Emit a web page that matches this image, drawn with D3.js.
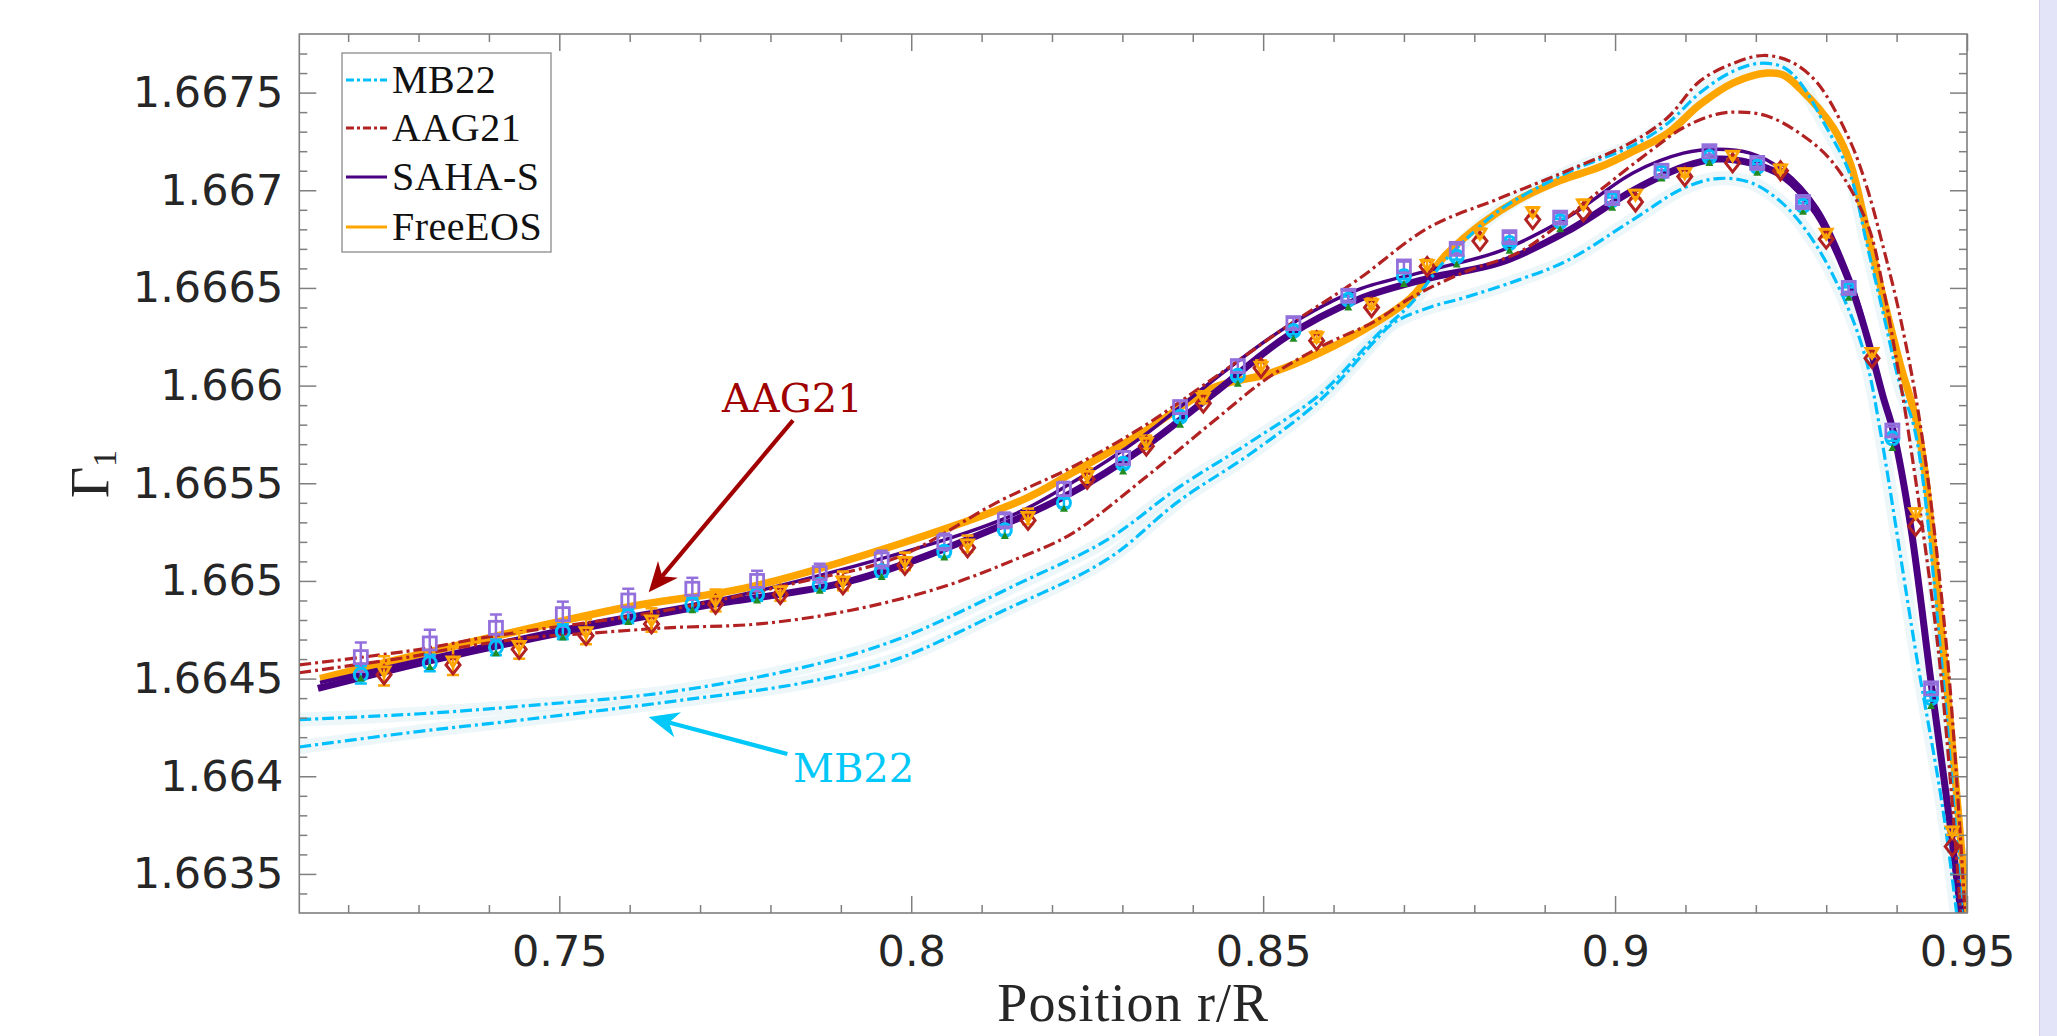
<!DOCTYPE html>
<html><head><meta charset="utf-8">
<script src="https://cdn.jsdelivr.net/npm/d3@7"></script>
<style>html,body{margin:0;padding:0;background:#fff;overflow:hidden}</style>
</head><body><svg id="c" width="2057" height="1036"></svg>
<script>
// ---------------- DATA ----------------
const xDomain = [0.71306, 0.95];
const yDomain = [1.6633, 1.6678];
const xTicks = [0.75, 0.8, 0.85, 0.9, 0.95];
const xTickLabels = ["0.75", "0.8", "0.85", "0.9", "0.95"];
const yTicks = [1.6635, 1.664, 1.6645, 1.665, 1.6655, 1.666, 1.6665, 1.667, 1.6675];
const yTickLabels = ["1.6635", "1.664", "1.6645", "1.665", "1.6655", "1.666", "1.6665", "1.667", "1.6675"];
const xMinor = [0.72,0.73,0.74,0.76,0.77,0.78,0.79,0.81,0.82,0.83,0.84,0.86,0.87,0.88,0.89,0.91,0.92,0.93,0.94];
const yMinor = [1.6634,1.6636,1.6637,1.6638,1.6639,1.6641,1.6642,1.6643,1.6644,1.6646,1.6647,1.6648,1.6649,1.6651,1.6652,1.6653,1.6654,1.6656,1.6657,1.6658,1.6659,1.6661,1.6662,1.6663,1.6664,1.6666,1.6667,1.6668,1.6669,1.6671,1.6672,1.6673,1.6674,1.6676,1.6677];

// MB22 model curves (two)
const mb22A = [[0.71306,1.66429],[0.7302,1.66432],[0.7450,1.66436],[0.76530,1.66443],[0.78491,1.66456],[0.79799,1.66470],[0.81546,1.66499],[0.82782,1.66521],[0.83806,1.66548],[0.84814,1.66571],[0.85823,1.66596],[0.86591,1.66625],[0.87102,1.66642],[0.87557,1.66663],[0.87856,1.66674],[0.88367,1.66690],[0.89320,1.66709],[0.90257,1.66723],[0.90740,1.66734],[0.91210,1.66750],[0.91680,1.66761],[0.92060,1.66765],[0.92390,1.66763],[0.92630,1.66755],[0.92960,1.66735],[0.93340,1.66708],[0.93580,1.66672],[0.93810,1.66637],[0.94050,1.66600],[0.94260,1.66577],[0.94630,1.66462],[0.94940,1.66325]];
const mb22B = [[0.71306,1.66415],[0.7302,1.66423],[0.7450,1.66429],[0.76530,1.66438],[0.78491,1.66448],[0.79799,1.66460],[0.81262,1.66484],[0.82782,1.66511],[0.83806,1.66541],[0.84814,1.66565],[0.85823,1.66593],[0.86591,1.66623],[0.86847,1.66632],[0.87358,1.66640],[0.87856,1.66645],[0.88623,1.66654],[0.89320,1.66664],[0.90257,1.66685],[0.90968,1.66701],[0.91451,1.66706],[0.91920,1.66704],[0.92389,1.66693],[0.92872,1.66671],[0.93341,1.66637],[0.93582,1.66611],[0.93767,1.66577],[0.94280,1.66462],[0.94650,1.66385],[0.94870,1.66325]];
// AAG21 model curves (two)
const aag21A = [[0.71306,1.66457],[0.73021,1.66465],[0.73926,1.66471],[0.76530,1.66485],[0.78491,1.66500],[0.79799,1.66512],[0.81262,1.66541],[0.82271,1.66558],[0.83294,1.66579],[0.84303,1.66604],[0.85326,1.66630],[0.86335,1.66654],[0.87358,1.66681],[0.88367,1.66696],[0.89320,1.66710],[0.90257,1.66725],[0.90740,1.66737],[0.91210,1.66756],[0.91680,1.66765],[0.92104,1.66769],[0.92488,1.66766],[0.92872,1.66755],[0.93341,1.66725],[0.93582,1.66701],[0.93809,1.66671],[0.94051,1.66635],[0.94349,1.66577],[0.94720,1.66462],[0.94980,1.66325]];
const aag21B = [[0.71306,1.66453],[0.73021,1.66462],[0.73272,1.66464],[0.74578,1.66471],[0.75361,1.66473],[0.76530,1.66476],[0.77837,1.66478],[0.79145,1.66485],[0.80452,1.66497],[0.81546,1.66512],[0.82271,1.66524],[0.83294,1.66552],[0.84303,1.66582],[0.85070,1.66604],[0.85823,1.66620],[0.86591,1.66633],[0.87102,1.66645],[0.87856,1.66658],[0.88623,1.66668],[0.89078,1.66679],[0.89788,1.66700],[0.90499,1.66720],[0.90968,1.66732],[0.91451,1.66739],[0.91778,1.66740],[0.92161,1.66738],[0.92630,1.66729],[0.93099,1.66714],[0.93582,1.66683],[0.93809,1.66650],[0.94008,1.66611],[0.94165,1.66577],[0.94600,1.66462],[0.94920,1.66325]];
// SAHA-S (thick and thin)
const sahaThick = [[0.7157,1.66445],[0.7327,1.66460],[0.7523,1.66475],[0.7718,1.66488],[0.7914,1.66500],[0.8126,1.66528],[0.8227,1.66545],[0.8329,1.66568],[0.8430,1.66596],[0.8533,1.66625],[0.8634,1.66644],[0.8736,1.66655],[0.8837,1.66663],[0.8932,1.66679],[0.9026,1.66700],[0.9097,1.66712],[0.9145,1.66716],[0.9192,1.66714],[0.9239,1.66707],[0.9287,1.66688],[0.9334,1.66652],[0.9358,1.66625],[0.9381,1.66594],[0.9395,1.66577],[0.9420,1.66528],[0.9449,1.66448],[0.9475,1.66378],[0.9493,1.66325]];
const sahaThin = [[0.7160,1.66448],[0.7523,1.66477],[0.7784,1.66495],[0.8126,1.66531],[0.8227,1.66550],[0.8329,1.66574],[0.8430,1.66603],[0.8533,1.66630],[0.8634,1.66649],[0.8736,1.66659],[0.8837,1.66669],[0.8932,1.66686],[0.9026,1.66709],[0.9097,1.66719],[0.9145,1.66721],[0.9192,1.66719],[0.9239,1.66710],[0.9287,1.66691],[0.9334,1.66655],[0.9358,1.66627],[0.9381,1.66595],[0.9395,1.66578],[0.9420,1.66530],[0.9449,1.66450],[0.9475,1.66380],[0.9493,1.66325]];
// FreeEOS
const freeEOS = [[0.7160,1.66450],[0.7588,1.66486],[0.7784,1.66498],[0.8155,1.66541],[0.8227,1.66555],[0.8329,1.66576],[0.8430,1.66599],[0.8507,1.66606],[0.8582,1.66617],[0.8659,1.66632],[0.8710,1.66645],[0.8760,1.66667],[0.8811,1.66683],[0.8862,1.66695],[0.8922,1.66705],[0.8979,1.66712],[0.9026,1.66720],[0.9074,1.66729],[0.9121,1.66744],[0.9168,1.66755],[0.9216,1.66760],[0.9239,1.66759],[0.9263,1.66752],[0.9310,1.66732],[0.9334,1.66714],[0.9358,1.66679],[0.9381,1.66645],[0.9405,1.66611],[0.9431,1.66577],[0.9467,1.66462],[0.9501,1.66325]];

// Observed inversions (markers)
const xObsA = [0.7218,0.7316,0.7410,0.7505,0.7598,0.7689,0.7781,0.7870,0.7958,0.8047,0.8133,0.8217,0.8301,0.8382,0.8464,0.8543,0.8621,0.8700,0.8775,0.8850,0.8922,0.8996,0.9066,0.9134,0.9202,0.9267,0.9332,0.9394,0.9449];
const xObsB = [0.7251,0.7349,0.7443,0.7538,0.7631,0.7722,0.7814,0.7903,0.7991,0.8080,0.8166,0.8250,0.8334,0.8415,0.8497,0.8576,0.8654,0.8733,0.8808,0.8883,0.8955,0.9029,0.9099,0.9167,0.9235,0.9300,0.9365,0.9427,0.9479];
const obsPurple = [1.66461,1.66468,1.66476,1.66483,1.66490,1.66496,1.66500,1.66504,1.66511,1.66520,1.66531,1.66547,1.66563,1.66589,1.66610,1.66632,1.66646,1.66661,1.66670,1.66676,1.66686,1.66696,1.66710,1.66720,1.66714,1.66694,1.66650,1.66577,1.66445];
const obsCyan = [1.66452,1.66458,1.66466,1.66474,1.66482,1.66488,1.66493,1.66498,1.66505,1.66515,1.66526,1.66540,1.66560,1.66584,1.66605,1.66628,1.66644,1.66656,1.66666,1.66673,1.66684,1.66695,1.66709,1.66717,1.66712,1.66692,1.66649,1.66573,1.66440];
const obsGreen = [1.66450,1.66456,1.66463,1.66471,1.66479,1.66485,1.66490,1.66495,1.66502,1.66512,1.66523,1.66537,1.66556,1.66580,1.66601,1.66624,1.66640,1.66652,1.66662,1.66669,1.66680,1.66691,1.66706,1.66714,1.66709,1.66689,1.66645,1.66568,1.66436];
const obsOrange = [1.66454,1.66459,1.66467,1.66474,1.66480,1.66490,1.66495,1.66500,1.66510,1.66519,1.66533,1.66554,1.66571,1.66594,1.66610,1.66625,1.66642,1.66662,1.66678,1.66689,1.66693,1.66698,1.66709,1.66718,1.66711,1.66678,1.66617,1.66535,1.66372];
const obsRed = [1.66452,1.66457,1.66465,1.66472,1.66478,1.66488,1.66493,1.66498,1.66508,1.66517,1.66531,1.66552,1.66569,1.66591,1.66609,1.66623,1.66640,1.66661,1.66674,1.66685,1.66689,1.66694,1.66707,1.66714,1.66710,1.66675,1.66614,1.66528,1.66364];
const errPurple = [0.000075,0.000070,0.000068,0.000064,0.000060,0.000056,0.000052,0.000048,0.000045,0.000042,0.000040,0.000037,0.000034,0.000031,0.000029,0.000027,0.000026,0.000025,0.000024,0.000023,0.000022,0.000021,0.000020,0.000020,0.000020,0.000020,0.000020,0.000020,0.000020];
const errCyan = [0.000045,0.000042,0.000040,0.000038,0.000036,0.000034,0.000032,0.000030,0.000028,0.000026,0.000024,0.000022,0.000020,0.000019,0.000018,0.000017,0.000016,0.000015,0.000015,0.000014,0.000014,0.000013,0.000013,0.000013,0.000013,0.000013,0.000013,0.000013,0.000013];
const errOrange = [0.000075,0.000072,0.000068,0.000064,0.000060,0.000056,0.000052,0.000048,0.000045,0.000042,0.000040,0.000037,0.000034,0.000031,0.000029,0.000027,0.000026,0.000025,0.000024,0.000023,0.000022,0.000021,0.000020,0.000020,0.000020,0.000020,0.000020,0.000020,0.000020];

const legendLabels = ["MB22", "AAG21", "SAHA-S", "FreeEOS"];
// annotations: [tail x, tail y, tip x, tip y] in data units, label anchor
const aagArrow = [0.7832, 1.665822, 0.7627, 1.664942];
const aagLabel = [0.7831, 1.665863];
const mbArrow = [0.7824, 1.664114, 0.7627, 1.664303];
const mbLabel = [0.7832, 1.663971];

// ---------------- DRAW ----------------
const W = 2057, H = 1036;
const P = {l: 299.3, r: 1967, t: 34, b: 913};
const svg = d3.select('#c');
const x = d3.scaleLinear().domain(xDomain).range([P.l, P.r]);
const y = d3.scaleLinear().domain(yDomain).range([P.b, P.t]);

const C_MB = '#00bfff', C_AAG = '#b22222', C_SAHA = '#4b0082', C_FREE = '#ffa500';
const C_AX = '#7f7f7f', C_TXT = '#262626';

svg.append('rect').attr('x', 0).attr('y', 0).attr('width', W).attr('height', H).attr('fill', '#fff');
svg.append('rect').attr('x', 2039).attr('y', 0).attr('width', 18).attr('height', H).attr('fill', '#e4e4f8');
svg.append('line').attr('x1', 2039.5).attr('x2', 2039.5).attr('y1', 0).attr('y2', H).attr('stroke', '#d2d2ee').attr('stroke-width', 1);

svg.append('defs').append('clipPath').attr('id', 'clip')
  .append('rect').attr('x', P.l).attr('y', P.t).attr('width', P.r - P.l).attr('height', P.b - P.t);

const plotG = svg.append('g').attr('clip-path', 'url(#clip)');
const line = d3.line().x(d => x(d[0])).y(d => y(d[1])).curve(d3.curveCatmullRom.alpha(0.5));

// faint glow under MB22 curves
[mb22A, mb22B].forEach(d => {
  plotG.append('path').attr('d', line(d)).attr('fill', 'none')
    .attr('stroke', '#d6eef5').attr('stroke-opacity', 0.45).attr('stroke-width', 14);
});

const DASH = '12,4,3,4';
plotG.append('path').attr('d', line(freeEOS)).attr('fill', 'none').attr('stroke', C_FREE).attr('stroke-width', 7.5).attr('stroke-linejoin', 'round');
plotG.append('path').attr('d', line(sahaThick)).attr('fill', 'none').attr('stroke', C_SAHA).attr('stroke-width', 7);
plotG.append('path').attr('d', line(sahaThin)).attr('fill', 'none').attr('stroke', C_SAHA).attr('stroke-width', 3.5);
[mb22A, mb22B].forEach(d => plotG.append('path').attr('d', line(d)).attr('fill', 'none').attr('stroke', C_MB).attr('stroke-width', 3.2).attr('stroke-dasharray', DASH));
[aag21A, aag21B].forEach(d => plotG.append('path').attr('d', line(d)).attr('fill', 'none').attr('stroke', C_AAG).attr('stroke-width', 3.2).attr('stroke-dasharray', DASH));

// error bars
function errBars(xs, ys, es, color, sw) {
  const g = plotG.append('g').attr('stroke', color).attr('stroke-width', sw).attr('fill', 'none');
  xs.forEach((xv, i) => {
    const px = x(xv), y0 = y(ys[i] - es[i]), y1 = y(ys[i] + es[i]);
    g.append('line').attr('x1', px).attr('x2', px).attr('y1', y0).attr('y2', y1);
    g.append('line').attr('x1', px - 6).attr('x2', px + 6).attr('y1', y0).attr('y2', y0);
    g.append('line').attr('x1', px - 6).attr('x2', px + 6).attr('y1', y1).attr('y2', y1);
  });
}
errBars(xObsA, obsCyan, errCyan, C_MB, 2.5);
errBars(xObsA, obsPurple, errPurple, '#9370db', 2.5);
errBars(xObsB, obsOrange, errOrange, C_FREE, 2.5);

// cyan circles
plotG.append('g').selectAll('circle').data(xObsA).join('circle')
  .attr('cx', d => x(d)).attr('cy', (d, i) => y(obsCyan[i])).attr('r', 6.5)
  .attr('fill', 'none').attr('stroke', C_MB).attr('stroke-width', 3);
// green small triangles
plotG.append('g').selectAll('path').data(xObsA).join('path')
  .attr('transform', (d, i) => `translate(${x(d)},${y(obsGreen[i])})`)
  .attr('d', 'M0,-4L4,3L-4,3Z').attr('fill', '#228b22');
// purple squares
plotG.append('g').selectAll('rect').data(xObsA).join('rect')
  .attr('x', d => x(d) - 6.5).attr('y', (d, i) => y(obsPurple[i]) - 6.5).attr('width', 13).attr('height', 13)
  .attr('fill', 'none').attr('stroke', '#9370db').attr('stroke-width', 2.8);
// red diamonds
plotG.append('g').selectAll('path').data(xObsB).join('path')
  .attr('transform', (d, i) => `translate(${x(d)},${y(obsRed[i])})`)
  .attr('d', 'M0,-9L7,0L0,9L-7,0Z').attr('fill', 'none').attr('stroke', C_AAG).attr('stroke-width', 3);
// orange down-triangles
plotG.append('g').selectAll('path').data(xObsB).join('path')
  .attr('transform', (d, i) => `translate(${x(d)},${y(obsOrange[i])})`)
  .attr('d', 'M-6,-4L6,-4L0,6Z').attr('fill', 'none').attr('stroke', C_FREE).attr('stroke-width', 2.8);

// ---------------- AXES ----------------
function styleAxis(g) {
  g.select('.domain').remove();
  g.selectAll('.tick line').attr('stroke', C_AX).attr('stroke-width', 1.5);
  g.selectAll('.tick text').attr('fill', C_TXT).attr('font-family', 'DejaVu Sans').attr('font-size', 43);
}
svg.append('g').attr('transform', `translate(0,${P.b})`)
  .call(d3.axisBottom(x).tickValues(xTicks).tickSize(-17).tickPadding(22).tickFormat((d, i) => xTickLabels[i])).call(styleAxis);
svg.append('g').attr('transform', `translate(0,${P.b})`)
  .call(d3.axisBottom(x).tickValues(xMinor).tickSize(-8).tickFormat('')).call(styleAxis);
svg.append('g').attr('transform', `translate(0,${P.t})`)
  .call(d3.axisTop(x).tickValues(xTicks).tickSize(-17).tickFormat('')).call(styleAxis);
svg.append('g').attr('transform', `translate(0,${P.t})`)
  .call(d3.axisTop(x).tickValues(xMinor).tickSize(-8).tickFormat('')).call(styleAxis);
svg.append('g').attr('transform', `translate(${P.l},0)`)
  .call(d3.axisLeft(y).tickValues(yTicks).tickSize(-17).tickPadding(16).tickFormat((d, i) => yTickLabels[i])).call(styleAxis);
svg.append('g').attr('transform', `translate(${P.l},0)`)
  .call(d3.axisLeft(y).tickValues(yMinor).tickSize(-8).tickFormat('')).call(styleAxis);
svg.append('g').attr('transform', `translate(${P.r},0)`)
  .call(d3.axisRight(y).tickValues(yTicks).tickSize(-17).tickFormat('')).call(styleAxis);
svg.append('g').attr('transform', `translate(${P.r},0)`)
  .call(d3.axisRight(y).tickValues(yMinor).tickSize(-8).tickFormat('')).call(styleAxis);

svg.append('rect').attr('x', P.l).attr('y', P.t).attr('width', P.r - P.l).attr('height', P.b - P.t)
  .attr('fill', 'none').attr('stroke', C_AX).attr('stroke-width', 1.6);

// axis titles
svg.append('text').attr('x', (P.l + P.r) / 2).attr('y', 1021).attr('text-anchor', 'middle')
  .attr('font-family', 'Liberation Serif').attr('font-size', 54).attr('letter-spacing', 1).attr('fill', C_TXT)
  .text('Position r/R');
const yl = svg.append('text').attr('transform', 'translate(108,474) rotate(-90)').attr('text-anchor', 'middle')
  .attr('font-family', 'Liberation Serif').attr('font-size', 54).attr('fill', C_TXT);
yl.append('tspan').text('Γ');
yl.append('tspan').attr('font-size', 34).attr('dy', 8).text('1');

// ---------------- LEGEND ----------------
const lg = svg.append('g');
lg.append('rect').attr('x', 342).attr('y', 53).attr('width', 209).attr('height', 199)
  .attr('fill', '#fff').attr('stroke', '#8a8a8a').attr('stroke-width', 1.3);
const legColors = [C_MB, C_AAG, C_SAHA, C_FREE];
const legDash = [DASH, DASH, null, null];
const legY = [80, 128, 177, 227];
legendLabels.forEach((t, i) => {
  lg.append('line').attr('x1', 346).attr('x2', 387).attr('y1', legY[i]).attr('y2', legY[i])
    .attr('stroke', legColors[i]).attr('stroke-width', 3.2).attr('stroke-dasharray', legDash[i] ? '8,3,3,3' : null);
  lg.append('text').attr('x', 392).attr('y', legY[i] + 13).attr('font-family', 'Liberation Serif')
    .attr('font-size', 40).attr('letter-spacing', 0.5).attr('fill', '#111').text(t);
});

// ---------------- ANNOTATIONS ----------------
function arrow(a, color) {
  const x0 = x(a[0]), y0 = y(a[1]), x1 = x(a[2]), y1 = y(a[3]);
  const dx = x1 - x0, dy = y1 - y0, len = Math.hypot(dx, dy);
  const ux = dx / len, uy = dy / len, nx = -uy, ny = ux;
  const L = 30, Wd = 13, N = 21;
  const bx = x1 - ux * L, by = y1 - uy * L;
  const kx = x1 - ux * N, ky = y1 - uy * N;
  svg.append('line').attr('x1', x0).attr('y1', y0).attr('x2', kx).attr('y2', ky)
    .attr('stroke', color).attr('stroke-width', 4.2);
  svg.append('path').attr('d', `M${x1},${y1}L${bx + nx * Wd},${by + ny * Wd}L${kx},${ky}L${bx - nx * Wd},${by - ny * Wd}Z`)
    .attr('fill', color);
}
arrow(aagArrow, '#a00000');
arrow(mbArrow, '#00c8f8');
svg.append('text').attr('x', x(aagLabel[0])).attr('y', y(aagLabel[1])).attr('text-anchor', 'middle')
  .attr('font-family', 'DejaVu Serif').attr('font-size', 40).attr('fill', '#a00000').text('AAG21');
svg.append('text').attr('x', x(mbLabel[0])).attr('y', y(mbLabel[1]))
  .attr('font-family', 'DejaVu Serif').attr('font-size', 40).attr('fill', '#00c8f8').text('MB22');
</script></body></html>
